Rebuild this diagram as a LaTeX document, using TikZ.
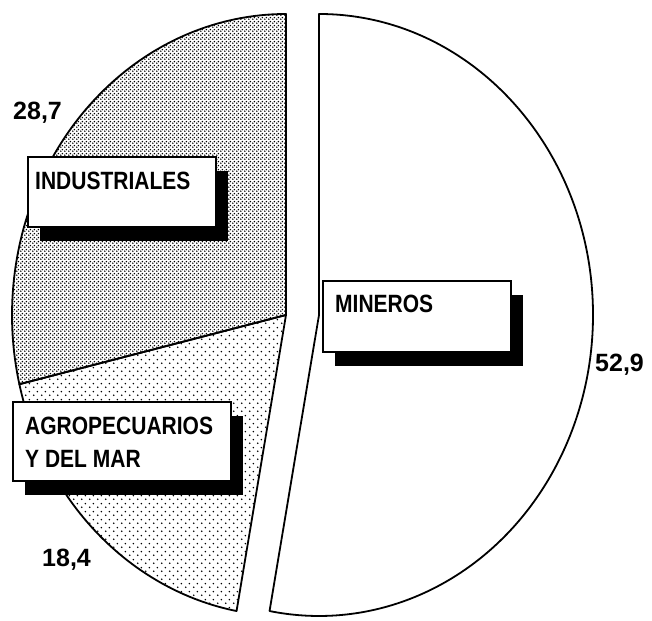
\documentclass[tikz,border=0pt]{standalone}
\usepackage{fontspec}
\setmainfont{Liberation Sans}
\usetikzlibrary{patterns,shadows,calc}
\pgfdeclarepatternformonly{densedots}{\pgfpointorigin}{\pgfpoint{4pt}{4pt}}{\pgfpoint{4pt}{4pt}}{%
 \pgfpathcircle{\pgfpoint{1pt}{1pt}}{0.95pt}%
 \pgfpathcircle{\pgfpoint{3pt}{3pt}}{0.95pt}%
 \pgfusepath{fill}}
\pgfdeclarepatternformonly{sparsedots}{\pgfpointorigin}{\pgfpoint{8pt}{8pt}}{\pgfpoint{8pt}{8pt}}{%
 \pgfpathcircle{\pgfpoint{2pt}{2pt}}{0.95pt}%
 \pgfpathcircle{\pgfpoint{6pt}{6pt}}{0.95pt}%
 \pgfusepath{fill}}
\newcommand\narrowtxt[1]{\scalebox{0.84}[1]{#1}}
\begin{document}
\begin{tikzpicture}[x=1pt,y=1pt,
  slice/.style={draw=black, line width=1.8pt, line join=round},
  labelbox/.style={draw=black, fill=white, line width=1.6pt, anchor=south west, inner sep=0pt,
    drop shadow={shadow xshift=12pt, shadow yshift=-14pt, fill=black, opacity=1}},
  lbl/.style={anchor=base west, inner sep=0pt, font=\fontsize{25}{30}\selectfont\bfseries}]
\useasboundingbox (0,0) rectangle (652,620);
\coordinate (cL) at (286,305);
\coordinate (cR) at (319,305);
% INDUSTRIALES slice
\draw[slice, pattern=densedots] (cL) -- ++(0,301)
  arc[start angle=90, end angle=193.3, x radius=274, y radius=301] -- cycle;
% AGROPECUARIOS slice
\draw[slice, pattern=sparsedots] (cL) -- ($(cL)+(193.3:274 and 301)$)
  arc[start angle=193.3, end angle=259.6, x radius=274, y radius=301] -- cycle;
% MINEROS slice (exploded)
\draw[slice, fill=white] (cR) -- ++(0,301)
  arc[start angle=90, end angle=-100.4, x radius=274, y radius=301] -- cycle;
% label boxes
\node[labelbox, minimum width=188pt, minimum height=70pt] (bind) at (27,392) {};
\node[labelbox, minimum width=218pt, minimum height=79pt] (bagr) at (12,138) {};
\node[labelbox, minimum width=188pt, minimum height=71pt] (bmin) at (322,267) {};
% texts
\node[lbl] (tind) at (35,430) {\narrowtxt{INDUSTRIALES}};
\node[lbl] (tagr1) at (25,185) {\narrowtxt{AGROPECUARIOS}};
\node[lbl] (tagr2) at (25,152) {\narrowtxt{Y DEL MAR}};
\node[lbl] (tmin) at (335,307) {\narrowtxt{MINEROS}};
\node[lbl] (vind) at (13,500) {28,7};
\node[lbl] (vagr) at (42,53) {18,4};
\node[lbl] (vmin) at (595,248) {52,9};
\end{tikzpicture}
\end{document}
